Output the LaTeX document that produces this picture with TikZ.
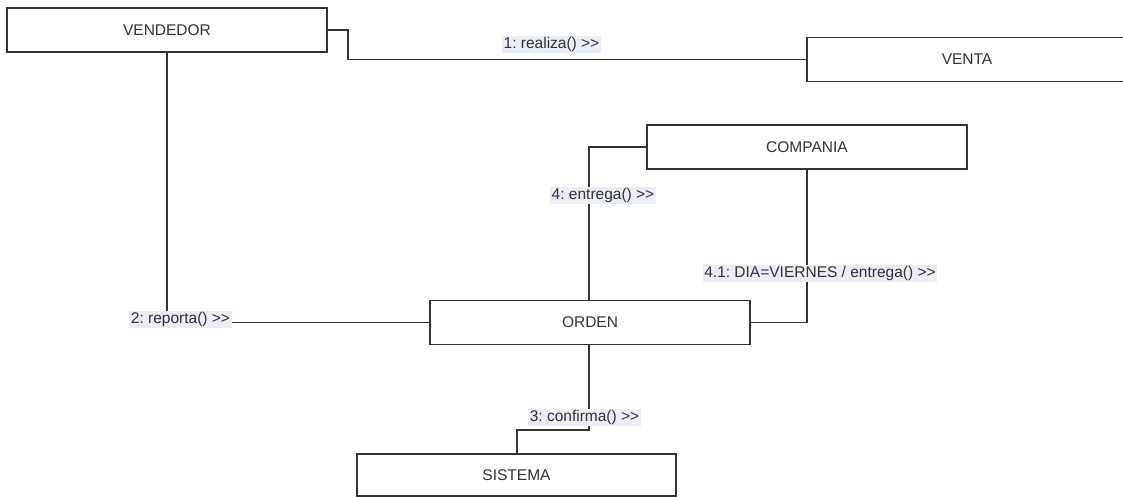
\documentclass[tikz,border=0pt]{standalone}
\usepackage{fontspec}
\setmainfont{Liberation Sans}
\definecolor{lblbg}{HTML}{E9EDF5}
\definecolor{edge}{HTML}{333333}
\newcommand{\gtgt}{>\kern0pt>}
\frenchspacing
\begin{document}
\begin{tikzpicture}[x=1pt,y=-1pt,
  obj/.style={draw=edge,line width=1.1pt,fill=white,minimum width=320pt,minimum height=44pt,inner sep=0pt,font=\fontsize{15.5}{18}\selectfont,text=black!80},
  lbl/.style={fill=lblbg,inner xsep=1.5pt,inner ysep=1pt,text height=11.5pt,text depth=3.5pt,font=\fontsize{15.5}{18}\selectfont\frenchspacing,text=black!80},
  conn/.style={draw=edge,line width=1.1pt}]
\useasboundingbox (0,0) rectangle (1123,497);
\node[obj] (vend) at (167,30) {VENDEDOR};
\node[obj] (venta) at (967,59.5) {VENTA};
\node[obj] (comp) at (807,147) {COMPANIA};
\node[obj] (orden) at (590,322.5) {ORDEN};
\node[obj,minimum width=319pt,minimum height=42pt] (sist) at (516.5,475) {SISTEMA};
\coordinate (c1) at (348,30);
\coordinate (c2) at (348,59.5);
\draw[conn] (vend.east) -- (c1) -- (c2) -- (venta.west);
\coordinate (c3) at (167,322.5);
\draw[conn] (vend.south) -- (c3) -- (orden.west);
\coordinate (c4) at (589,147);
\draw[conn] (comp.west) -- (c4) -- (c4 |- orden.north);
\coordinate (c5) at (807,322.5);
\draw[conn] (comp.south) -- (c5) -- (orden.east);
\coordinate (c6) at (589,430);
\coordinate (c7) at (517,430);
\draw[conn] (c6 |- orden.south) -- (c6) -- (c7) -- (c7 |- sist.north);
\node[lbl] (l1) at (551.5,44.5) {1: realiza() \gtgt};
\node[lbl] (l2) at (180.5,319.5) {2: reporta() \gtgt};
\node[lbl] (l3) at (584.5,417) {3: confirma() \gtgt};
\node[lbl] (l4) at (603,195.5) {4: entrega() \gtgt};
\node[lbl] (l41) at (820,273) {4.1: DIA=VIERNES / entrega() \gtgt};
\end{tikzpicture}
\end{document}
